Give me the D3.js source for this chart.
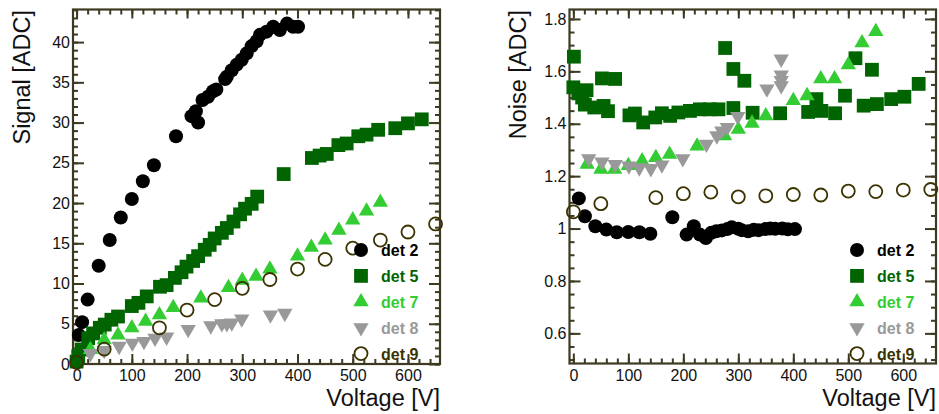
<!DOCTYPE html>
<html>
<head>
<meta charset="utf-8">
<script src="https://cdn.jsdelivr.net/npm/d3@7"></script>
<style>
  body { margin: 0; background: #fff; }
  svg { font-family: "Liberation Sans", Arial, sans-serif; }
</style>
</head>
<body>
<svg id="chart" width="939" height="414"></svg>
<script>
// ---- data ----
const detNames = ["det 2", "det 5", "det 7", "det 8", "det 9"];

// signal panel
const sigV2 = [4, 10, 20, 40, 60, 80, 100, 120, 140, 180, 208, 216, 220, 228, 238, 247, 253, 269, 272, 281, 290, 299, 308, 317, 326, 332, 344, 356, 368, 381, 392, 401];
const sig2 = [3.6, 5.2, 8.0, 12.2, 15.4, 18.2, 20.5, 22.7, 24.7, 28.3, 30.8, 31.4, 30.0, 32.8, 33.2, 33.9, 34.1, 35.4, 35.7, 36.5, 37.2, 37.8, 38.6, 39.5, 40.1, 40.9, 41.3, 41.9, 41.5, 42.3, 41.9, 41.9];
const sigV5 = [0, 3, 9, 21, 30, 42, 51, 63, 75, 100, 112, 127, 151, 163, 178, 190, 199, 211, 220, 232, 241, 250, 263, 272, 284, 296, 305, 317, 327, 375, 426, 440, 453, 474, 489, 510, 525, 546, 577, 600, 625];
const sig5 = [0.3, 0.95, 1.8, 3.2, 3.8, 4.5, 4.9, 5.5, 5.9, 7.2, 7.6, 8.4, 9.6, 9.8, 10.7, 11.4, 12.1, 12.8, 13.4, 14.2, 14.8, 15.6, 16.3, 16.9, 17.7, 18.6, 19.3, 19.9, 20.8, 23.6, 25.6, 25.9, 26.1, 27.2, 27.4, 28.3, 28.5, 29.1, 29.3, 29.9, 30.4];
const det7V = [25, 50, 75, 100, 125, 150, 175, 225, 275, 300, 325, 350, 400, 425, 450, 475, 500, 525, 550];
const sig7 = [1.8, 3.0, 3.6, 4.5, 5.3, 6.1, 7.0, 8.2, 9.5, 10.4, 10.9, 11.8, 13.4, 14.5, 15.4, 16.6, 17.9, 19.0, 20.1];
const sigV8 = [25, 50, 77, 101, 122, 142, 163, 202, 243, 263, 272, 281, 299, 351, 377];
const sig8 = [1.3, 1.7, 2.2, 2.6, 2.8, 3.2, 3.35, 4.3, 4.75, 5.0, 5.0, 5.1, 5.6, 6.1, 6.3];
const det9V = [0, 50, 150, 200, 250, 300, 350, 400, 450, 500, 550, 600, 650];
const sig9 = [0.2, 1.85, 4.5, 6.7, 8.0, 9.4, 10.5, 11.8, 13.0, 14.4, 15.4, 16.4, 17.4];

// noise panel
const noiseV2 = [10, 21, 40, 60, 79, 100, 120, 140, 180, 206, 219, 230, 241, 251, 260, 270, 280, 288, 300, 306, 318, 328, 337, 349, 358, 367, 380, 390, 403];
const noise2 = [1.115, 1.047, 1.009, 0.996, 0.986, 0.987, 0.986, 0.980, 1.043, 0.977, 1.009, 0.977, 0.964, 0.984, 0.990, 0.993, 0.998, 1.005, 0.999, 0.994, 0.990, 0.995, 0.994, 0.998, 1.0, 0.999, 1.0, 0.997, 0.998];
const noiseV5 = [1, 0, 9, 16, 24, 21, 38, 52, 55, 63, 76, 102, 112, 127, 149, 161, 176, 191, 212, 230, 248, 264, 276, 291, 291, 311, 326, 376, 427, 442, 451, 476, 494, 513, 528, 543, 552, 578, 602, 628];
const noise5 = [1.656, 1.539, 1.516, 1.50, 1.528, 1.473, 1.462, 1.573, 1.468, 1.448, 1.571, 1.432, 1.439, 1.405, 1.424, 1.440, 1.430, 1.443, 1.449, 1.455, 1.455, 1.455, 1.689, 1.609, 1.460, 1.564, 1.442, 1.440, 1.445, 1.494, 1.449, 1.440, 1.507, 1.650, 1.469, 1.606, 1.475, 1.494, 1.503, 1.552];
const noise7 = [1.245, 1.226, 1.226, 1.240, 1.258, 1.271, 1.283, 1.315, 1.354, 1.379, 1.402, 1.430, 1.488, 1.507, 1.571, 1.571, 1.625, 1.709, 1.752];
const noiseV8 = [28, 52, 76, 101, 120, 141, 161, 199, 242, 261, 270, 280, 299, 352, 378, 378, 378, 378];
const noise8 = [1.267, 1.254, 1.245, 1.239, 1.232, 1.229, 1.243, 1.267, 1.322, 1.354, 1.373, 1.386, 1.428, 1.533, 1.647, 1.586, 1.565, 1.545];
const noise9 = [1.064, 1.095, 1.118, 1.133, 1.139, 1.121, 1.125, 1.130, 1.128, 1.143, 1.141, 1.147, 1.149];

const xMajor = [0, 100, 200, 300, 400, 500, 600];
const sigTicks = [0, 5, 10, 15, 20, 25, 30, 35, 40];
const noiseTicks = [0.6, 0.8, 1, 1.2, 1.4, 1.6, 1.8];

// ---- styles ----
const colors = ["#000000", "#006400", "#33cc33", "#999999", "#3b3300"];
const shapes = ["circle", "square", "triangle", "down", "open"];
const frameColor = "#3d3a22";

const svg = d3.select("#chart");

function zip(xs, ys) {
    return xs.map((x, i) => ({x: x, y: ys[i]}));
}

function marker(sel, shape, color) {
    if (shape === "circle") {
        sel.append("circle").attr("r", 7).attr("fill", color);
    } else if (shape === "open") {
        sel.append("circle").attr("r", 6.5).attr("fill", "none")
            .attr("stroke", color).attr("stroke-width", 1.8);
    } else if (shape === "square") {
        sel.append("path").attr("d", d3.symbol(d3.symbolSquare, 190)()).attr("fill", color);
    } else if (shape === "triangle") {
        sel.append("path").attr("d", d3.symbol(d3.symbolTriangle, 102)()).attr("fill", color);
    } else {
        sel.append("path").attr("d", d3.symbol(d3.symbolTriangle, 102)())
            .attr("transform", "rotate(180)").attr("fill", color);
    }
}

function drawPanel(cfg) {
    const x = d3.scaleLinear().domain(cfg.xDomain).range([cfg.left, cfg.right]);
    const y = d3.scaleLinear().domain(cfg.yDomain).range([cfg.bottom, cfg.top]);
    const g = svg.append("g");

    const xMinor = d3.range(0, 660, 20);
    const yMinor = d3.range(cfg.minorStart, cfg.yDomain[1], cfg.minorStep);

    function styleAxis(a) {
        a.select(".domain").remove();
        a.selectAll("line").attr("stroke", frameColor).attr("stroke-width", 2);
        a.selectAll("text").attr("fill", "#111").style("font-size", "16px").attr("font-family", null);
    }

    // bottom
    g.append("g").attr("transform", `translate(0,${cfg.bottom})`)
        .call(d3.axisBottom(x).tickValues(xMinor).tickSize(-5).tickFormat(""))
        .call(styleAxis);
    g.append("g").attr("transform", `translate(0,${cfg.bottom})`)
        .call(d3.axisBottom(x).tickValues(xMajor).tickSize(-10).tickPadding(6).tickFormat(d3.format("d")))
        .call(styleAxis);
    // top
    g.append("g").attr("transform", `translate(0,${cfg.top})`)
        .call(d3.axisTop(x).tickValues(xMinor).tickSize(-5).tickFormat(""))
        .call(styleAxis);
    g.append("g").attr("transform", `translate(0,${cfg.top})`)
        .call(d3.axisTop(x).tickValues(xMajor).tickSize(-9).tickFormat(""))
        .call(styleAxis);
    // left
    g.append("g").attr("transform", `translate(${cfg.left},0)`)
        .call(d3.axisLeft(y).tickValues(yMinor).tickSize(-5).tickFormat(""))
        .call(styleAxis);
    g.append("g").attr("transform", `translate(${cfg.left},0)`)
        .call(d3.axisLeft(y).tickValues(cfg.yTicks).tickSize(-11).tickPadding(3).tickFormat(cfg.yFormat))
        .call(styleAxis);
    // right
    g.append("g").attr("transform", `translate(${cfg.right},0)`)
        .call(d3.axisRight(y).tickValues(yMinor).tickSize(-5).tickFormat(""))
        .call(styleAxis);
    g.append("g").attr("transform", `translate(${cfg.right},0)`)
        .call(d3.axisRight(y).tickValues(cfg.yTicks).tickSize(-11).tickFormat(""))
        .call(styleAxis);

    g.append("rect")
        .attr("x", cfg.left).attr("y", cfg.top)
        .attr("width", cfg.right - cfg.left).attr("height", cfg.bottom - cfg.top)
        .attr("fill", "none").attr("stroke", frameColor).attr("stroke-width", 2.2);

    // data
    cfg.series.forEach((s, i) => {
        g.append("g").selectAll("g")
            .data(s)
            .join("g")
            .attr("transform", d => `translate(${x(d.x)},${y(d.y)})`)
            .each(function () { marker(d3.select(this), shapes[i], colors[i]); });
    });

    // legend
    const leg = g.append("g");
    detNames.forEach((name, i) => {
        const row = leg.append("g").attr("transform", `translate(0,${250 + i * 25.9})`);
        marker(row.append("g").attr("transform", `translate(${cfg.legX},0)`), shapes[i], colors[i]);
        row.append("text")
            .attr("x", cfg.legX + 20).attr("y", 6)
            .attr("fill", colors[i])
            .style("font-size", "16px").style("font-weight", "bold")
            .text(name);
    });

    // titles
    g.append("text")
        .attr("x", cfg.right).attr("y", 406)
        .attr("text-anchor", "end")
        .style("font-size", "23.5px").attr("fill", "#111")
        .text("Voltage [V]");
    g.append("text")
        .attr("transform", `translate(${cfg.titleX},10) rotate(-90)`)
        .attr("text-anchor", "end")
        .style("font-size", "23.5px").attr("fill", "#111")
        .text(cfg.yTitle);
}

drawPanel({
    left: 73, right: 440, top: 9.5, bottom: 364,
    xDomain: [-6.5, 658], yDomain: [0, 44.05],
    yTicks: sigTicks, yFormat: d3.format("d"), minorStart: 0, minorStep: 1,
    yTitle: "Signal [ADC]", titleX: 30, legX: 361,
    series: [zip(sigV2, sig2), zip(sigV5, sig5), zip(det7V, sig7), zip(sigV8, sig8), zip(det9V, sig9)]
});

drawPanel({
    left: 569.5, right: 936, top: 9.5, bottom: 363.5,
    xDomain: [-7, 659.5], yDomain: [0.485, 1.836],
    yTicks: noiseTicks, yFormat: d => d3.format("")(+d.toFixed(1)), minorStart: 0.5, minorStep: 0.05,
    yTitle: "Noise [ADC]", titleX: 526, legX: 857,
    series: [zip(noiseV2, noise2), zip(noiseV5, noise5), zip(det7V, noise7), zip(noiseV8, noise8), zip(det9V, noise9)]
});
</script>
</body>
</html>
